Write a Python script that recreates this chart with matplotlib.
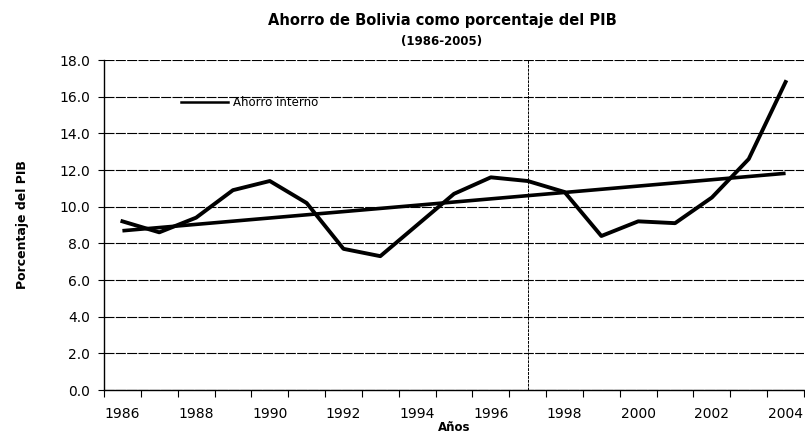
import numpy as np
import matplotlib
matplotlib.use("Agg")
import matplotlib.pyplot as plt

years = list(range(1986, 2005))
ahorro = [9.2, 8.6, 9.4, 10.9, 11.4, 10.2, 7.7, 7.3, 9.0, 10.7, 11.6, 11.4, 10.8,
          8.4, 9.2, 9.1, 10.5, 12.6, 16.8]
yticks = [0, 2, 4, 6, 8, 10, 12, 14, 16, 18]
marker_year = 1997

fig = plt.figure(figsize=(8.05, 4.46), dpi=100)
ax = fig.add_axes([104/805, 1-390/446, 700/805, 330/446])

x = np.arange(len(years))
coef = np.polyfit(x, ahorro, 1)
trend = np.polyval(coef, x)

ax.plot(x, ahorro, color='black', lw=2.8, solid_joinstyle='round', label='Ahorro interno', zorder=3)
ax.plot(x, trend, color='black', lw=2.6, solid_capstyle='butt', zorder=3)

ax.set_xlim(-0.5, len(years) - 0.5)
ax.set_ylim(0, 18)
ax.set_yticks(yticks)
ax.set_yticklabels([f"{v:.1f}" for v in yticks], fontsize=10)
for v in yticks:
    ax.axhline(v, color='black', lw=0.8, ls=(0, (9, 1.2)), zorder=1)
ax.axvline(years.index(marker_year), color='black', lw=0.7, ls=(0, (3, 1)), zorder=1)

ax.set_xticks(np.arange(-0.5, len(years)), minor=True)
ax.set_xticks(x[::2])
ax.set_xticklabels([str(y) for y in years[::2]], fontsize=10)
ax.tick_params(axis='x', which='major', length=0, pad=12)
ax.tick_params(axis='x', which='minor', length=5, width=0.8, direction='out')
ax.tick_params(axis='y', length=4, width=0.8, direction='out', pad=6)

for s in ['top', 'right']:
    ax.spines[s].set_visible(False)
ax.spines['left'].set_linewidth(1.0)
ax.spines['bottom'].set_linewidth(1.0)

ax.set_xlabel('Años', fontsize=8.5, fontweight='bold', labelpad=0)
ax.set_ylabel('Porcentaje del PIB', fontsize=9, fontweight='bold', labelpad=22)

fig.text(442/805, 1-20/446, 'Ahorro de Bolivia como porcentaje del PIB', ha='center', va='center',
         fontsize=10.5, fontweight='bold')
fig.text(442/805, 1-41/446, '(1986-2005)', ha='center', va='center', fontsize=8.5, fontweight='bold')

leg = ax.legend(loc='center left', bbox_to_anchor=((176-104)/700, (390-103)/330), frameon=False,
                fontsize=8.5, handlelength=4.0, handletextpad=0.4, borderaxespad=0)
for h in leg.get_lines():
    h.set_linewidth(1.8)

fig.savefig('out.png', dpi=100)
